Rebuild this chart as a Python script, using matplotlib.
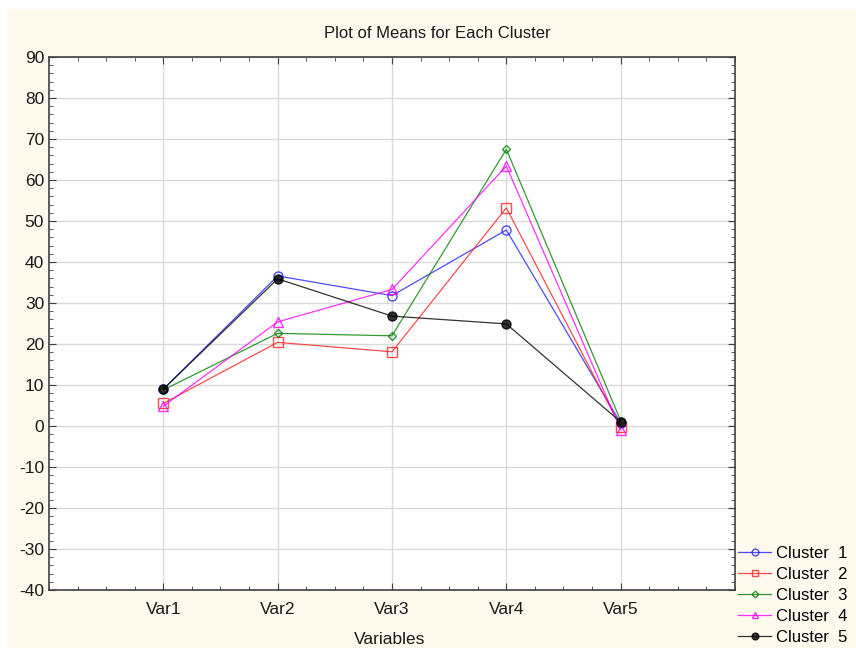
import numpy as np
import matplotlib.pyplot as plt
from matplotlib.patches import Rectangle
from matplotlib.ticker import MultipleLocator, AutoMinorLocator

plt.rcParams['font.family'] = ['Liberation Sans', 'DejaVu Sans']
plt.rcParams['axes.unicode_minus'] = False

variables = ['Var1', 'Var2', 'Var3', 'Var4', 'Var5']
cluster1 = [9.0, 36.6, 31.8, 47.8, 0.7]
cluster2 = [5.5, 20.4, 18.1, 53.2, -0.3]
cluster3 = [8.8, 22.6, 22.0, 67.5, 1.3]
cluster4 = [4.8, 25.4, 33.3, 63.4, -0.9]
cluster5 = [9.0, 35.9, 26.8, 24.9, 1.0]

series = [
    ('Cluster  1', cluster1, '#2020ff', 'o', 'none', 6.5),
    ('Cluster  2', cluster2, '#ff2020', 's', 'none', 6.5),
    ('Cluster  3', cluster3, '#008000', 'D', 'none', 4.5),
    ('Cluster  4', cluster4, '#ff00ff', '^', 'none', 6.5),
    ('Cluster  5', cluster5, '#000000', 'o', '#000000', 6.5),
]

fig = plt.figure(figsize=(8.56, 6.48), dpi=100, facecolor='white')
# cream background panel
fig.patches.append(Rectangle((7/856, 0), 1, 1 - 9/648, transform=fig.transFigure,
                             facecolor='#fff9ee', edgecolor='none', zorder=-10))

ax = fig.add_axes([49/856, 1 - 590/648, (735-49)/856, (590-57)/648])
ax.set_facecolor('white')

x = np.arange(1, len(variables) + 1)
for name, vals, col, mk, fc, ms in series:
    ax.plot(x, vals, color=col, marker=mk, markerfacecolor=fc, markeredgecolor=col,
            markersize=ms, linewidth=0.9, alpha=0.8, label=name)

ax.set_xlim(0, 6)
ax.set_ylim(-40, 90)
ax.set_xticks(x)
ax.set_xticklabels(variables)
ax.yaxis.set_major_locator(MultipleLocator(10))
ax.xaxis.set_minor_locator(AutoMinorLocator(4))
ax.yaxis.set_minor_locator(AutoMinorLocator(5))
ax.grid(True, which='major', color='#dadada', linewidth=1.0)
ax.set_axisbelow(True)
ax.tick_params(which='both', direction='in', top=True, right=True, colors='#404040',
               labelcolor='#1a1a1a', labelsize=12.5)
ax.tick_params(axis='x', which='major', pad=9)
ax.tick_params(which='major', length=5)
ax.tick_params(which='minor', length=3)
for sp in ax.spines.values():
    sp.set_color('#404040')
    sp.set_linewidth(1.2)

fig.text(390/856, 1 - 640/648, 'Variables', ha='center', va='center',
         fontsize=12.5, color='#1a1a1a')
fig.text(437/856, 1 - 33/648, 'Plot of Means for Each Cluster', ha='center', va='center',
         fontsize=12, color='#1a1a1a')

fig.legend(loc='lower left', bbox_to_anchor=(738/856, 3/648), frameon=False,
           fontsize=12, handlelength=2.0, labelspacing=0.36, handletextpad=0.3,
           borderaxespad=0.0, borderpad=0.0, markerscale=0.75)

fig.savefig('out.png', dpi=100, facecolor=fig.get_facecolor())
